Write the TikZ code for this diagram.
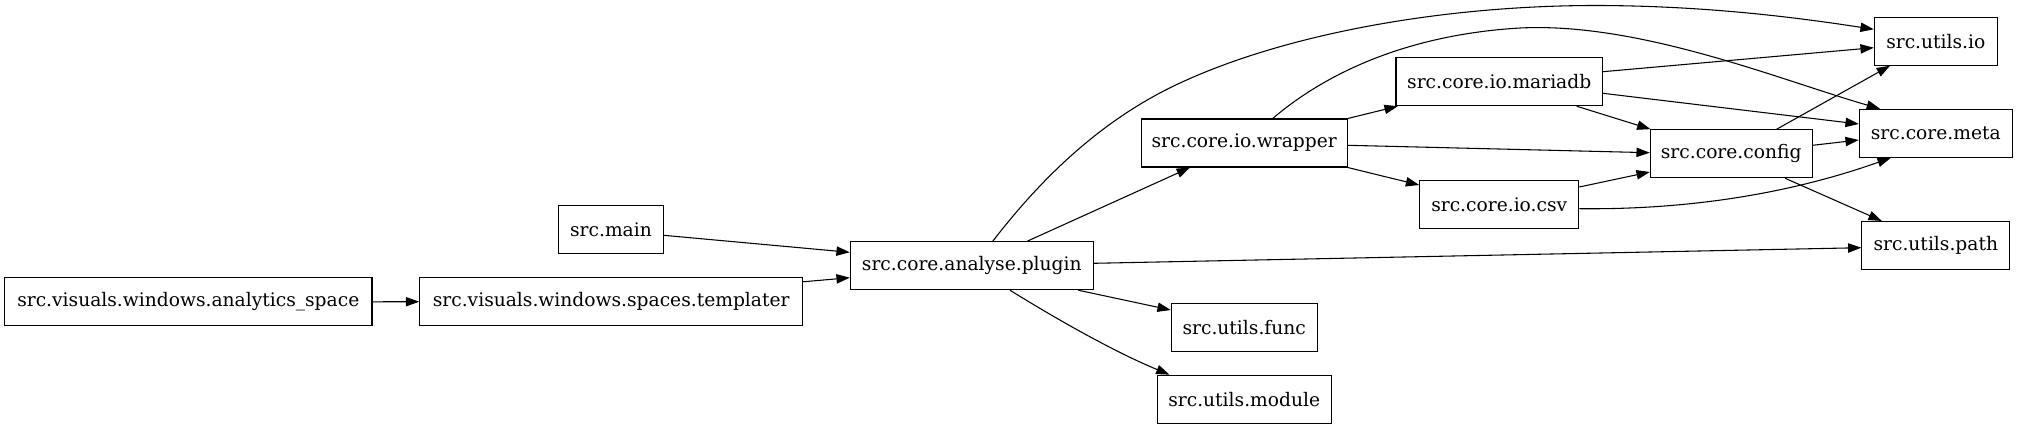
\documentclass[tikz,border=0pt]{standalone}
\usepackage{fontspec}
\setmainfont{DejaVu Serif}
\usetikzlibrary{arrows.meta,calc}
\begin{document}
\begin{tikzpicture}[x=0.75pt,y=-0.75pt,
  mod/.style={draw=black,line width=0.8pt,rectangle,minimum height=36pt,inner xsep=0pt,inner ysep=0pt,
    font=\fontsize{14pt}{17pt}\selectfont,text=black},
  dep/.style={draw=black,line width=0.8pt,-{Triangle[length=10pt,width=7pt]}}]
\useasboundingbox (0,0) rectangle (2017,429);
\fill[white] (0,0) rectangle (2017,429);
% nodes
\node[mod,minimum width=275.5pt] (analytics) at (188.3,301.8) {src.visuals.windows.analytics\_space};
\node[mod,minimum width=287.25pt] (templater) at (611.2,301.7) {src.visuals.windows.spaces.templater};
\node[mod,minimum width=78.2pt] (main) at (611,229.7) {src.main};
\node[mod,minimum width=182.25pt] (plugin) at (971.8,265.7) {src.core.analyse.plugin};
\node[mod,minimum width=154.7pt] (wrapper) at (1244.2,143) {src.core.io.wrapper};
\node[mod,minimum width=109.35pt] (func) at (1244.2,327.2) {src.utils.func};
\node[mod,minimum width=130.35pt] (module) at (1244.2,399.2) {src.utils.module};
\node[mod,minimum width=154.8pt] (mariadb) at (1499.2,81.7) {src.core.io.mariadb};
\node[mod,minimum width=119.25pt] (csv) at (1499.2,204.5) {src.core.io.csv};
\node[mod,minimum width=121.3pt] (config) at (1731.2,153.7) {src.core.config};
\node[mod,minimum width=92.25pt] (io) at (1935.8,41.2) {src.utils.io};
\node[mod,minimum width=114.75pt] (meta) at (1935.8,133.3) {src.core.meta};
\node[mod,minimum width=110.8pt] (path) at (1935.8,245.5) {src.utils.path};
% edges
\draw[dep] (analytics.east) -- (templater.west);
\draw[dep] ($(templater.north east)+(0,4.6)$) -- ($(plugin.west)+(0,12)$);
\draw[dep] ($(main.east)+(0,5.6)$) -- ($(plugin.west)+(0,-13.4)$);
\draw[dep] ($(plugin.north)+(55.5,0)$) -- ($(wrapper.south)+(-54.2,0)$);
\draw[dep] ($(plugin.north)+(21,0)$) .. controls (1040,180) and (1100,120) .. (1180,83)
  .. controls (1290,32) and (1450,5) .. (1600,5.5)
  .. controls (1710,6) and (1800,18) .. ($(io.west)+(0,-11.9)$);
\draw[dep] ($(wrapper.north)+(28.5,0)$) .. controls (1320,78) and (1400,35) .. (1520,28)
  .. controls (1640,22) and (1780,80) .. ($(meta.north)+(-55.8,0)$);
\draw[dep] (wrapper.north east) -- ($(mariadb.south west)+(2.3,0)$);
\draw[dep] ($(wrapper.east)+(0,2.3)$) -- ($(config.west)+(0,-1)$);
\draw[dep] (wrapper.south east) -- ($(csv.west)+(0,-19.5)$);
\draw[dep] ($(plugin.south)+(106.5,0)$) -- ($(func.west)+(0,-17.2)$);
\draw[dep] ($(plugin.south)+(38.2,0)$) .. controls (1050,315) and (1110,350) .. ($(module.north west)+(12.7,0)$);
\draw[dep] ($(plugin.east)+(0,-2.4)$) -- ($(path.west)+(0,2.2)$);
\draw[dep] ($(mariadb.east)+(0,-10)$) -- ($(io.west)+(0,6.5)$);
\draw[dep] ($(mariadb.east)+(0,11.6)$) -- ($(meta.west)+(0,-9.3)$);
\draw[dep] ($(mariadb.south)+(77.5,0)$) -- ($(config.north west)+(0.7,0)$);
\draw[dep] ($(csv.east)+(0,-17.5)$) -- ($(config.west)+(0,18.3)$);
\draw[dep] ($(csv.east)+(0,4.2)$) .. controls (1700,210) and (1800,190) .. ($(meta.south)+(-45,0)$);
\draw[dep] ($(config.north)+(45.5,0)$) -- ($(io.south)+(-45.8,0)$);
\draw[dep] ($(config.east)+(0,-8.4)$) -- ($(meta.west)+(0,6.7)$);
\draw[dep] ($(config.south)+(53.8,0)$) -- ($(path.north)+(-54,0)$);
\end{tikzpicture}
\end{document}
